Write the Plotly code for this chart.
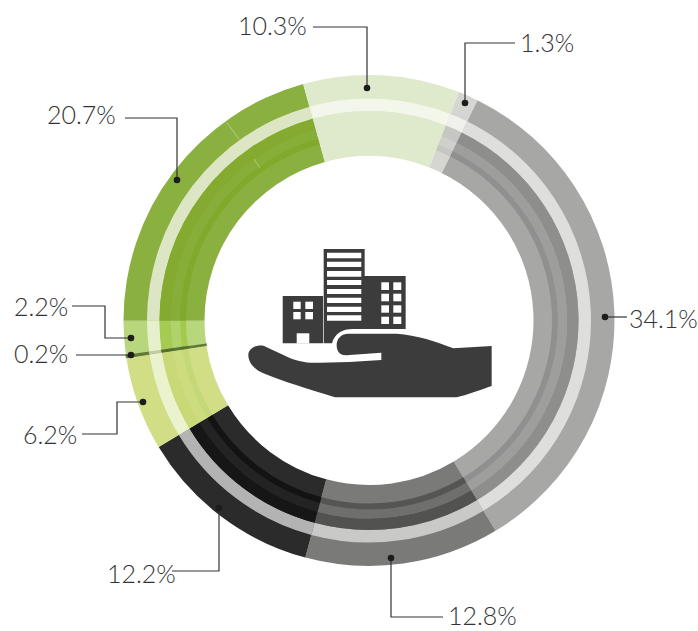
import plotly.graph_objects as go

W, H = 698, 631
CX, CY = 369, 320.5

shares = [34.1, 12.8, 12.2, 6.2, 0.2, 2.2, 20.7, 10.3, 1.3]
labels = ["34.1%", "12.8%", "12.2%", "6.2%", "0.2%", "2.2%", "20.7%", "10.3%", "1.3%"]
base_colors = ["#a7a7a6", "#7a7a79", "#2b2b2b", "#d2de86", "#5f7a36", "#b8d67b", "#8ab03f", "#dfe9cb", "#d5d6d1"]
halo_colors = ["#dededd", "#c9c9c8", "#b3b3b3", "#ebf2ce", "#c1cba4", "#e7f0cd", "#dce6c5", "#f3f6ea", "#f0f0ed"]
dark_colors = ["#8e8e8d", "#525251", "#171616", "#c9d978", "#56702c", "#a5cb52", "#84ab30", "#dfe9cb", "#c6c6c2"]
mid_colors = ["#9e9e9d", "#6f6f6e", "#242323", "#cedc80", "#5a7531", "#b0d26c", "#87ae39", "#dfe9cb", "#cfcfcb"]
thin_colors = ["#909090", "#555554", "#141313", "#c5d878", "#56702c", "#a2cb4d", "#81aa2d", "#dfe9cb", "#c6c6c2"]
edge_widths = [0, 0, 0, 0, 1, 0, 0, 0, 0]

# (inner radius, outer radius, colours)
rings = [
    (164.5, 245.5, base_colors),
    (209.5, 222.0, halo_colors),
    (198.0, 209.5, dark_colors),
    (189.0, 198.0, mid_colors),
    (183.0, 189.0, thin_colors),
]

# label, text left x, text centre y, leader polyline (starts at the dot)
callouts = [
    ("10.3%", 236, 25, [(367, 88), (367, 27), (313, 27)]),
    ("1.3%", 518, 42, [(465, 103), (465, 43), (515, 43)]),
    ("34.1%", 627, 318, [(605, 317), (627, 317)]),
    ("12.8%", 446, 615, [(391, 558), (391, 617), (443, 617)]),
    ("12.2%", 105, 573, [(219, 508), (219, 571), (172, 571)]),
    ("6.2%", 21, 434, [(143, 402), (117, 402), (117, 434), (82, 434)]),
    ("0.2%", 12, 353, [(131, 355), (76, 355)]),
    ("2.2%", 12, 306, [(131, 338), (105, 338), (105, 306), (72, 306)]),
    ("20.7%", 45, 114, [(177, 180), (177, 118), (125, 118)]),
]


def px(x):
    return x / W


def py(y):
    return 1 - y / H


fig = go.Figure()
for r0, r1, colors in rings:
    fig.add_trace(go.Pie(
        values=shares, labels=labels, sort=False, direction="clockwise", rotation=26.2,
        hole=r0 / r1, textinfo="none", hoverinfo="skip", showlegend=False,
        marker=dict(colors=colors, line=dict(width=edge_widths, color=colors)),
        domain=dict(x=[px(CX - r1), px(CX + r1)], y=[py(CY + r1), py(CY - r1)]),
    ))

shapes = []
annotations = []


def rect(x0, y0, x1, y1, color):
    shapes.append(dict(type="rect", xref="paper", yref="paper", x0=px(x0), x1=px(x1),
                       y0=py(y0), y1=py(y1), fillcolor=color, line=dict(width=0)))


def zpath(d, color):
    """d: path tokens in zoom-crop coordinates of the icon (origin 240,240, scale 3)."""
    out = []
    for tok in d.split():
        if "," in tok:
            a, b = tok.split(",")
            out.append(f"{px(240 + float(a) / 3):.5f},{py(240 + float(b) / 3):.5f}")
        else:
            out.append(tok)
    shapes.append(dict(type="path", xref="paper", yref="paper", path=" ".join(out),
                       fillcolor=color, line=dict(width=0)))


ICON = "#3c3c3c"
# buildings
rect(282.7, 296, 323, 343.3, ICON)
zpath("M 251,27 L 374,27 L 374,108 L 497,108 L 497,267 L 340,267 C 305,267 285,280 276,310 L 251,310 Z", ICON)
# left building door and windows
rect(296.7, 333.3, 309.3, 343.5, "white")
for wx0, wx1 in [(293.3, 300.7), (305.3, 313)]:
    for wy0, wy1 in [(301.7, 309), (312, 319.3)]:
        rect(wx0, wy0, wx1, wy1, "white")
# middle tower stripes
for sy0, sy1 in [(252.7, 258.3), (261.7, 267), (271, 276.7), (280, 285), (289, 294), (297.7, 303), (306.7, 312), (315.3, 320.7)]:
    rect(327, sy0, 361.3, sy1, "white")
# right building windows
for wx0, wx1 in [(381.3, 389), (393.3, 401.3)]:
    for wy0, wy1 in [(282.3, 290), (293.7, 301.3), (305.3, 312.7), (316.7, 324)]:
        rect(wx0, wy0, wx1, wy1, "white")
# hand
zpath("M 25,345 C 25,325 50,313 72,318 L 130,345 C 170,365 200,370 240,368 L 328,366 L 424,360 L 424,338 "
      "L 328,345 C 300,350 290,335 290,315 C 290,295 305,281 325,281 L 470,281 C 530,285 590,305 640,325 "
      "L 755,318 L 755,438 C 720,450 680,465 650,472 L 285,472 C 200,445 130,425 70,400 C 45,388 25,370 25,345 Z", ICON)

# faint seams in the green slice
for (a, b), (c, d) in [((226.7, 122.3), (239.3, 139.6)), ((254, 159), (260, 168))]:
    shapes.append(dict(type="line", xref="paper", yref="paper", x0=px(a), y0=py(b), x1=px(c), y1=py(d),
                       line=dict(color="rgba(255,255,255,0.35)", width=1)))

# leaders, dots, labels
for text, tx, ty, pts in callouts:
    d = "M " + " L ".join(f"{px(x):.5f},{py(y):.5f}" for x, y in pts)
    shapes.append(dict(type="path", xref="paper", yref="paper", path=d, line=dict(color="#333333", width=1.2)))
    dx, dy = pts[0]
    shapes.append(dict(type="circle", xref="paper", yref="paper", x0=px(dx - 3.3), x1=px(dx + 3.3),
                       y0=py(dy + 3.3), y1=py(dy - 3.3), fillcolor="#1d1d1b", line=dict(width=0)))
    annotations.append(dict(text=text, xref="paper", yref="paper", x=px(tx), y=py(ty), xanchor="left",
                            yanchor="middle", showarrow=False, xshift=0,
                            font=dict(family="Lato", size=25, color="#333333", weight=300)))

fig.update_layout(width=W, height=H, margin=dict(l=0, r=0, t=0, b=0), paper_bgcolor="white",
                  plot_bgcolor="white", shapes=shapes, annotations=annotations, showlegend=False)
fig.write_html("out.html", config=dict(displayModeBar=False),
               post_script="document.body.style.margin='0';document.documentElement.style.overflow='hidden';")
